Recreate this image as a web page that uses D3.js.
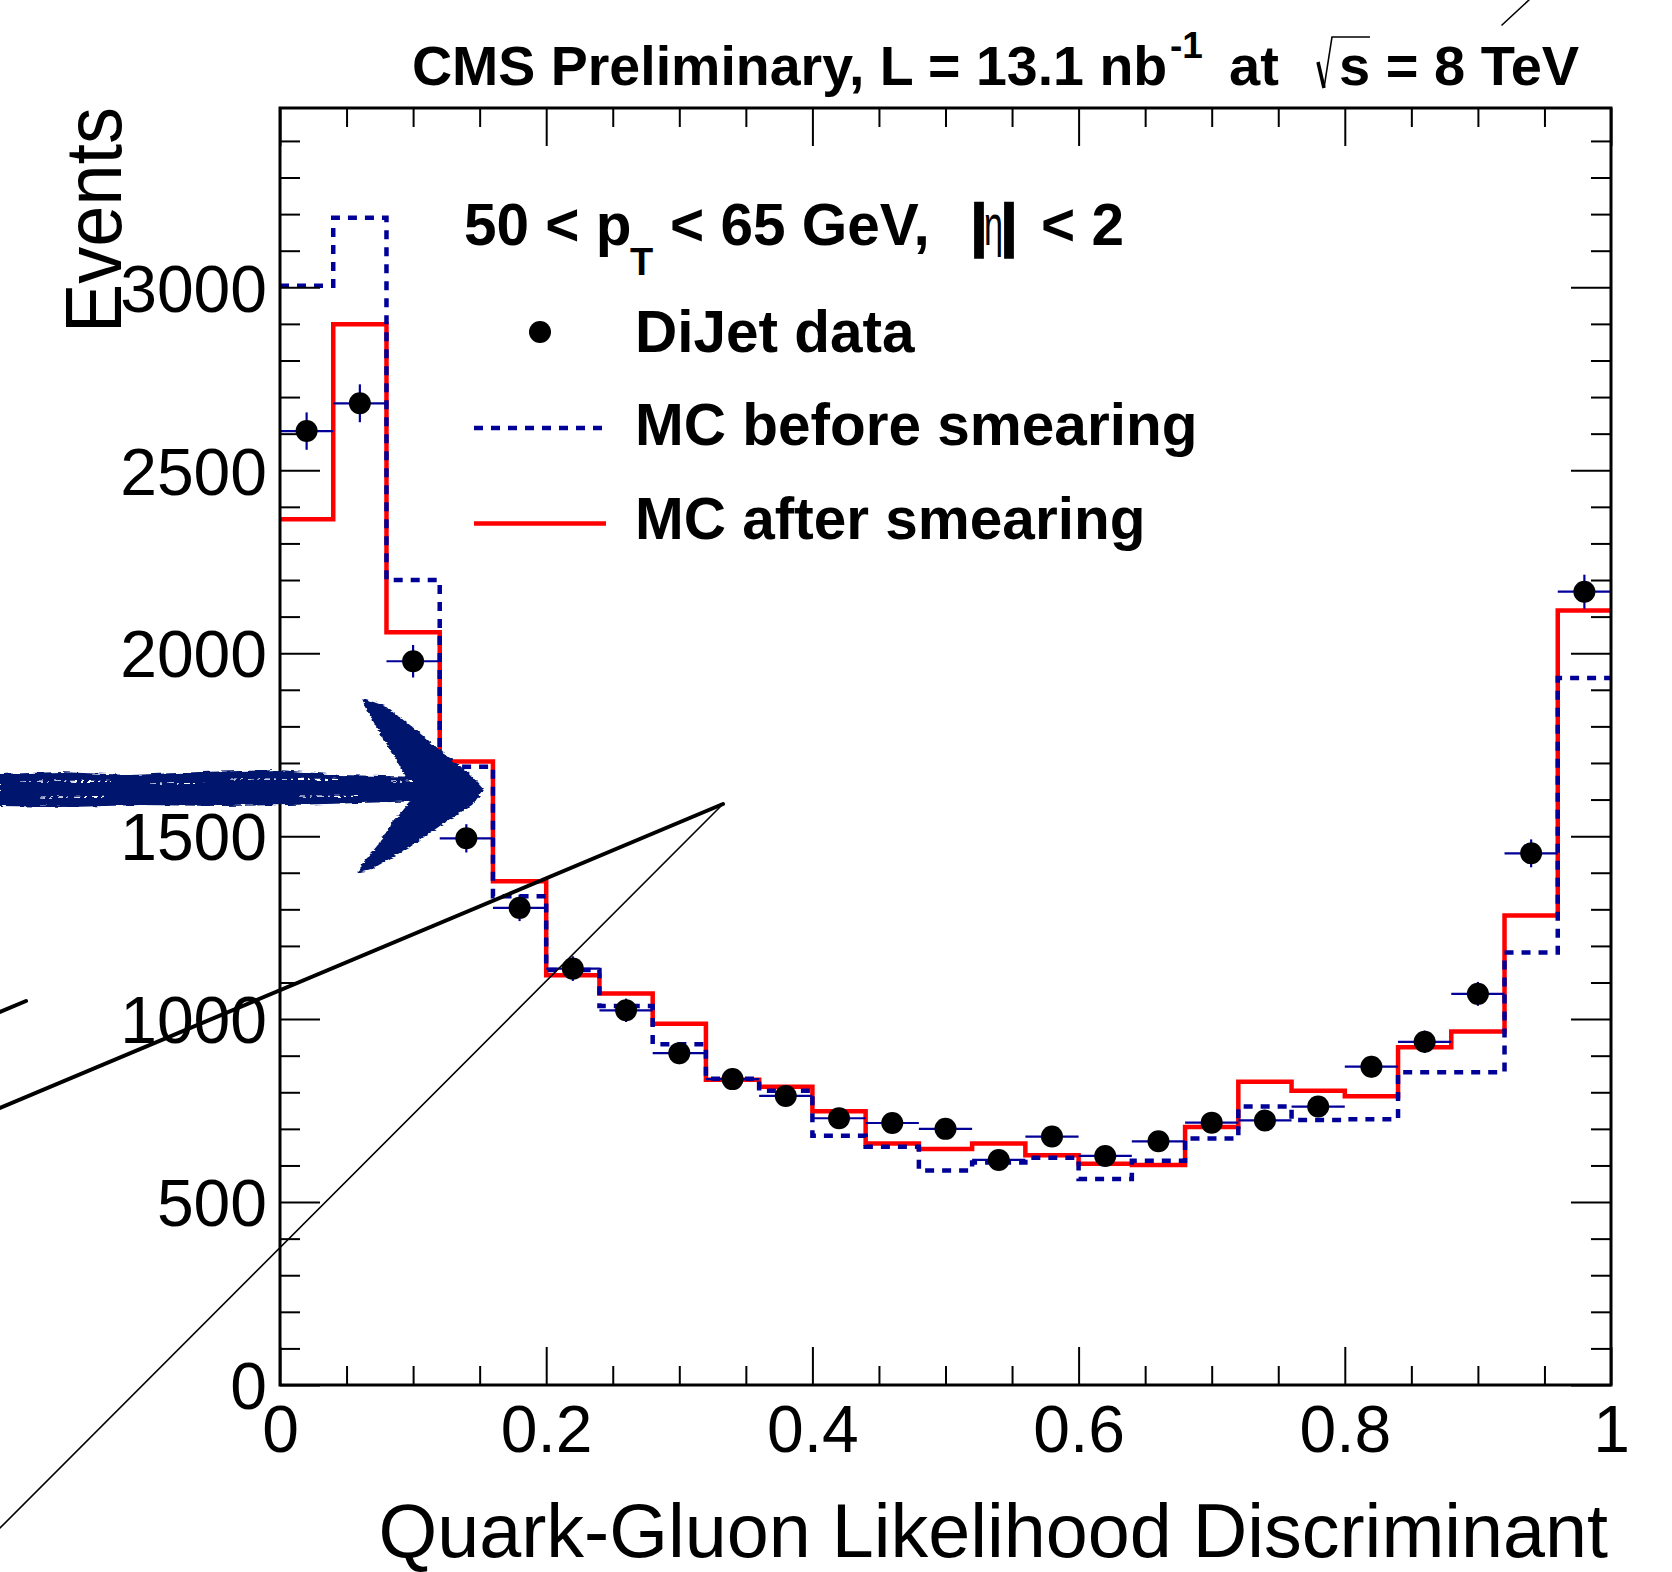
<!DOCTYPE html>
<html>
<head>
<meta charset="utf-8">
<script src="https://cdn.jsdelivr.net/npm/d3@7"></script>
<style>
  html, body { margin: 0; padding: 0; background: #fff; }
  svg { display: block; }
</style>
</head>
<body>
<svg id="chart" width="1672" height="1572"></svg>
<script>
// 25 bins of width 0.04 on [0, 1]
const binEdges = d3.range(26).map((i) => +(i * 0.04).toFixed(2));
const dataCounts = [2607, 2683, 1978, 1494, 1304, 1138, 1024, 907, 836, 790, 729, 716, 700, 615, 679, 626, 666, 717, 723, 761, 870, 938, 1069, 1453, 2168];
const mcBefore = [3004, 3190, 2200, 1690, 1336, 1134, 1036, 931, 837, 804, 681, 651, 586, 608, 621, 563, 613, 674, 761, 724, 726, 855, 855, 1182, 1932];
const mcAfter = [2366, 2899, 2057, 1704, 1377, 1120, 1070, 987, 834, 815, 748, 660, 645, 660, 628, 605, 601, 705, 829, 804, 789, 923, 966, 1283, 2117];
const yTicks = [0, 500, 1000, 1500, 2000, 2500, 3000];
const xTicks = [0, 0.2, 0.4, 0.6, 0.8, 1];
const legendLabels = ["DiJet data", "MC before smearing", "MC after smearing"];

const font = '"Liberation Sans", Arial, Helvetica, sans-serif';
const navy = "#000099";
const red = "#ff0000";

const svg = d3.select("#chart");
const x = d3.scaleLinear().domain([0, 1]).range([280, 1611]);
const y = d3.scaleLinear().domain([0, 3490]).range([1385, 108]);

const bins = dataCounts.map((v, i) => ({
  lo: binEdges[i],
  hi: binEdges[i + 1],
  data: v,
  before: mcBefore[i],
  after: mcAfter[i],
}));

const stepPath = (key) =>
  d3.line().curve(d3.curveStepAfter).x((d) => x(d[0])).y((d) => y(d[1]))([
    ...bins.map((b) => [b.lo, b[key]]),
    [binEdges[binEdges.length - 1], bins[bins.length - 1][key]],
  ]);

// ---- histograms
svg.append("path").attr("d", stepPath("after"))
  .attr("fill", "none").attr("stroke", red).attr("stroke-width", 4.5);
svg.append("path").attr("d", stepPath("before"))
  .attr("fill", "none").attr("stroke", navy).attr("stroke-width", 4.5)
  .attr("stroke-dasharray", "9,8");

// ---- data points with poisson errors
const pts = svg.append("g");
pts.selectAll(".hbar").data(bins).join("line")
  .attr("x1", (d) => x(d.lo)).attr("x2", (d) => x(d.hi))
  .attr("y1", (d) => y(d.data)).attr("y2", (d) => y(d.data))
  .attr("stroke", navy).attr("stroke-width", 2.2);
pts.selectAll(".vbar").data(bins).join("line")
  .attr("x1", (d) => x((d.lo + d.hi) / 2)).attr("x2", (d) => x((d.lo + d.hi) / 2))
  .attr("y1", (d) => y(d.data - Math.sqrt(d.data))).attr("y2", (d) => y(d.data + Math.sqrt(d.data)))
  .attr("stroke", navy).attr("stroke-width", 2.2);
pts.selectAll("circle").data(bins).join("circle")
  .attr("cx", (d) => x((d.lo + d.hi) / 2)).attr("cy", (d) => y(d.data))
  .attr("r", 11).attr("fill", "#000");

// ---- axes (ticks inward on all four sides)
const yMinor = d3.range(0, 3490, 100).filter((v) => v % 500 !== 0);
const xMinor = d3.range(0, 21).map((i) => +(i * 0.05).toFixed(2)).filter((v) => Math.round(v * 100) % 20 !== 0);

const styleAxis = (g) => {
  g.select(".domain").remove();
  g.attr("font-family", font).attr("font-size", 66);
  g.selectAll("line").attr("stroke", "#000").attr("stroke-width", 2);
  g.selectAll("text").attr("fill", "#000");
};

const frameL = x(0), frameR = x(1), frameT = y.range()[1], frameB = y(0);

svg.append("g").attr("transform", `translate(${frameL},0)`)
  .call(d3.axisLeft(y).tickValues(yTicks).tickSize(-40).tickPadding(13).tickFormat(d3.format("d")))
  .call(styleAxis).selectAll("text").attr("dy", "0.36em");
svg.append("g").attr("transform", `translate(${frameL},0)`)
  .call(d3.axisLeft(y).tickValues(yMinor).tickSize(-20).tickFormat("")).call(styleAxis);
svg.append("g").attr("transform", `translate(${frameR},0)`)
  .call(d3.axisRight(y).tickValues(yTicks).tickSize(-40).tickFormat("")).call(styleAxis);
svg.append("g").attr("transform", `translate(${frameR},0)`)
  .call(d3.axisRight(y).tickValues(yMinor).tickSize(-20).tickFormat("")).call(styleAxis);

svg.append("g").attr("transform", `translate(0,${frameB})`)
  .call(d3.axisBottom(x).tickValues(xTicks).tickSize(-38).tickPadding(20).tickFormat((d) => (d === 0 || d === 1 ? String(d) : d.toFixed(1))))
  .call(styleAxis);
svg.append("g").attr("transform", `translate(0,${frameB})`)
  .call(d3.axisBottom(x).tickValues(xMinor).tickSize(-19).tickFormat("")).call(styleAxis);
svg.append("g").attr("transform", `translate(0,${frameT})`)
  .call(d3.axisTop(x).tickValues(xTicks).tickSize(-38).tickFormat("")).call(styleAxis);
svg.append("g").attr("transform", `translate(0,${frameT})`)
  .call(d3.axisTop(x).tickValues(xMinor).tickSize(-19).tickFormat("")).call(styleAxis);

// frame
svg.append("rect")
  .attr("x", frameL).attr("y", frameT)
  .attr("width", frameR - frameL).attr("height", frameB - frameT)
  .attr("fill", "none").attr("stroke", "#000").attr("stroke-width", 3);

// ---- axis titles
svg.append("text")
  .attr("x", frameR - 3).attr("y", 1557)
  .attr("text-anchor", "end").attr("font-family", font).attr("font-size", 75.5)
  .text("Quark-Gluon Likelihood Discriminant");

svg.append("text")
  .attr("transform", "translate(121,107) rotate(-90)")
  .attr("text-anchor", "end").attr("font-family", font).attr("font-size", 80)
  .attr("textLength", 226).attr("lengthAdjust", "spacingAndGlyphs")
  .text("Events");

// ---- header
const title = svg.append("g").attr("font-family", font).attr("font-weight", "bold").attr("fill", "#000");
title.append("text").attr("x", 412).attr("y", 85).attr("font-size", 55.5).text("CMS Preliminary, L = 13.1 nb");
title.append("text").attr("x", 1170).attr("y", 58).attr("font-size", 37).text("-1");
title.append("text").attr("x", 1229).attr("y", 85).attr("font-size", 56).text("at");
title.append("text").attr("x", 1339).attr("y", 85).attr("font-size", 56).text("s = 8 TeV");
// radical sign over the s
const sx = 1339;
title.append("path")
  .attr("d", `M${sx - 21},${62} L${sx - 15},${88}`)
  .attr("stroke", "#000").attr("stroke-width", 3.5).attr("fill", "none");
title.append("path")
  .attr("d", `M${sx - 15},${88} L${sx - 7},${37} L${sx + 31},${37}`)
  .attr("stroke", "#000").attr("stroke-width", 1.6).attr("fill", "none");

// ---- kinematic selection
const sel = svg.append("g").attr("font-family", font).attr("font-weight", "bold").attr("fill", "#000");
sel.append("text").attr("x", 464).attr("y", 245).attr("font-size", 58.5).text("50 < p");
sel.append("text").attr("x", 630).attr("y", 275).attr("font-size", 38).text("T");
sel.append("text").attr("x", 670).attr("y", 245).attr("font-size", 58.5).text("< 65 GeV,");
sel.append("text").attr("x", 971).attr("y", 245).attr("font-size", 57)
  .attr("stroke", "#000").attr("stroke-width", 2.5).text("|");
sel.append("text").attr("x", 984).attr("y", 245).attr("font-size", 57).attr("font-weight", "normal")
  .attr("textLength", 19).attr("lengthAdjust", "spacingAndGlyphs").text("η");
sel.append("text").attr("x", 1001).attr("y", 245).attr("font-size", 57)
  .attr("stroke", "#000").attr("stroke-width", 2.5).text("|");
sel.append("text").attr("x", 1041).attr("y", 245).attr("font-size", 58.5).text("< 2");

// ---- legend
const leg = svg.append("g").attr("font-family", font).attr("font-weight", "bold").attr("font-size", 58.5);
const legRows = [352, 445, 539];
leg.selectAll("text").data(legendLabels).join("text")
  .attr("x", 635).attr("y", (d, i) => legRows[i]).text((d) => d);
leg.append("circle").attr("cx", 540).attr("cy", 332).attr("r", 11).attr("fill", "#000");
leg.append("line").attr("x1", 474).attr("x2", 606).attr("y1", 428).attr("y2", 428)
  .attr("stroke", navy).attr("stroke-width", 4.5).attr("stroke-dasharray", "9,8");
leg.append("line").attr("x1", 474).attr("x2", 606).attr("y1", 523.5).attr("y2", 523.5)
  .attr("stroke", red).attr("stroke-width", 4.5);

// ---- hand-drawn annotations on top
const defs = svg.append("defs");
const rough = defs.append("filter").attr("id", "rough").attr("x", "-5%").attr("y", "-20%").attr("width", "110%").attr("height", "140%");
rough.append("feTurbulence").attr("type", "fractalNoise").attr("baseFrequency", "0.08 0.5").attr("numOctaves", 2).attr("seed", 4).attr("result", "n");
rough.append("feDisplacementMap").attr("in", "SourceGraphic").attr("in2", "n").attr("scale", 5)
  .attr("xChannelSelector", "R").attr("yChannelSelector", "G");

const annoLines = [
  { x1: 0, y1: 1108, x2: 723, y2: 804, w: 4 },
  { x1: 0, y1: 1528, x2: 723, y2: 804, w: 1.6 },
  { x1: 0, y1: 1012, x2: 26, y2: 1001, w: 4 },
  { x1: 1502, y1: 25, x2: 1529, y2: 0, w: 1.6 },
];
svg.append("g").selectAll("line").data(annoLines).join("line")
  .attr("x1", (d) => d.x1).attr("y1", (d) => d.y1).attr("x2", (d) => d.x2).attr("y2", (d) => d.y2)
  .attr("stroke", "#000").attr("stroke-width", (d) => d.w).attr("stroke-linecap", "round");

const arrowColor = "#05166e";
const shaft = [[0, 774], [60, 772], [130, 775], [200, 772], [280, 770], [340, 775], [425, 777],
  [425, 801], [360, 803], [290, 805], [220, 806], [140, 805], [70, 807], [0, 806]];
const head = [[362, 698], [385, 706], [410, 725], [440, 750], [470, 774], [484, 790], [472, 805],
  [447, 821], [410, 847], [372, 869], [358, 873], [362, 864], [377, 846], [393, 822], [410, 802],
  [414, 790], [402, 770], [389, 748], [373, 721], [365, 707]];
const arrow = svg.append("g").attr("filter", "url(#rough)");
arrow.append("path").attr("d", d3.line()(shaft) + "Z").attr("fill", arrowColor);
arrow.append("path").attr("d", d3.line()(head) + "Z").attr("fill", arrowColor);
// light brush streaks
const streaks = [[20, 781, 95], [150, 783, 60], [230, 779, 110], [40, 797, 70], [300, 796, 60], [390, 781, 25]];
arrow.selectAll(".streak").data(streaks).join("line")
  .attr("x1", (d) => d[0]).attr("x2", (d) => d[0] + d[2])
  .attr("y1", (d) => d[1]).attr("y2", (d) => d[1] + 0.5)
  .attr("stroke", "#fff").attr("stroke-width", 1.2).attr("stroke-dasharray", "6,4,2,5");
</script>
</body>
</html>
